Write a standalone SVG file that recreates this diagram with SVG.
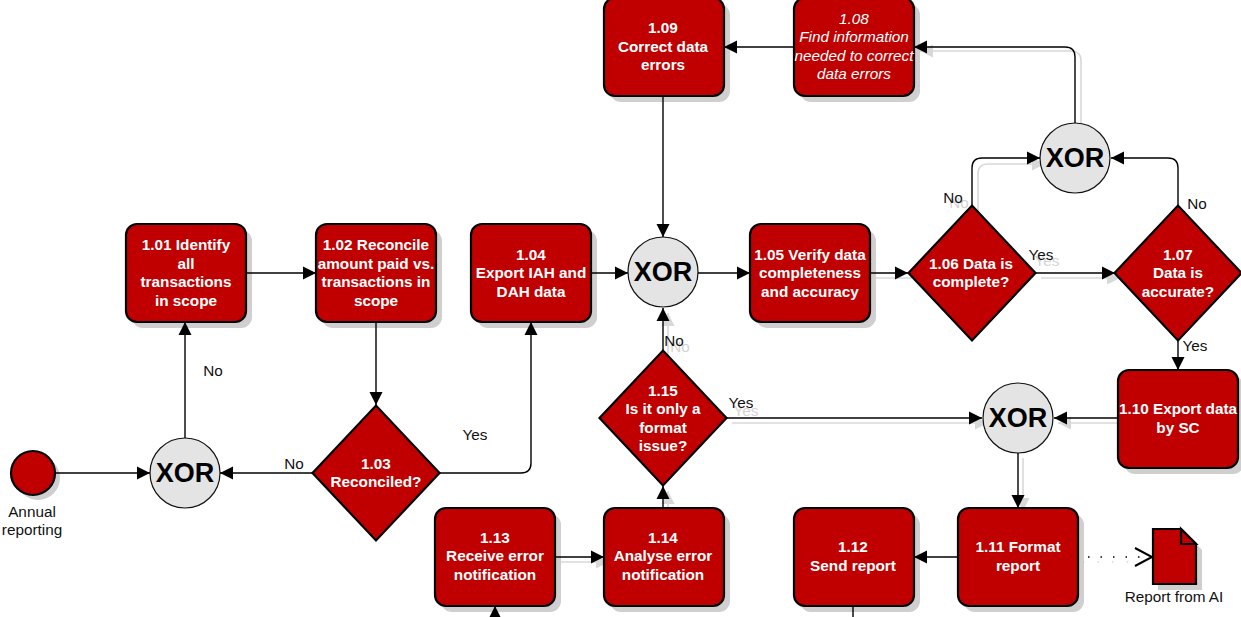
<svg xmlns="http://www.w3.org/2000/svg" width="1241" height="617" viewBox="0 0 1241 617">
<style>
text{font-family:"Liberation Sans",Arial,sans-serif;text-anchor:middle}
.b{fill:#c00000;stroke:#000;stroke-width:2.2}
.s{fill:#cfcfcf}
.x{fill:#e4e4e4;stroke:#111;stroke-width:1.2}
.xt{font-size:27px;font-weight:bold;fill:#000}
.t{font-size:15.3px;font-weight:bold;fill:#fff}
.i{font-size:15.3px;font-style:italic;fill:#fff}
.l{font-size:15.3px;fill:#111}
.g{font-size:15.3px;fill:#d4d4d4}
.c{fill:none;stroke:#000;stroke-width:1.4}
.ch{fill:none;stroke:#000;stroke-width:2}
.cs{fill:none;stroke:#d8d8d8;stroke-width:1.6}
.a{fill:#000}
.as{fill:#d8d8d8}
</style>
<defs>
<rect id="sbox" class="s" width="120" height="98" rx="11"/>
<rect id="box" class="b" width="120" height="98" rx="11"/>
<path id="dia" class="b" d="M-63.5 0L0-67.5L63.5 0L0 67.5Z"/>
<marker id="m" markerUnits="userSpaceOnUse" markerWidth="15" markerHeight="15" refX="14" refY="7.5" orient="auto"><path class="a" d="M1 1L14 7.5L1 14Z"/></marker>
<marker id="ms" markerUnits="userSpaceOnUse" markerWidth="15" markerHeight="15" refX="14" refY="7.5" orient="auto"><path class="as" d="M1 1L14 7.5L1 14Z"/></marker>
</defs>
<g id="connector-shadows">
<path class="cs" marker-end="url(#ms)" d="M1081 128V61Q1081 51 1071 51H920"/>
<path class="cs" marker-end="url(#ms)" d="M978 212V174Q978 164 988 164H1045"/>
<path class="cs" marker-end="url(#ms)" d="M1041 278H1120"/>
<path class="cs" marker-end="url(#ms)" d="M732 423H988"/>
<path class="cs" marker-end="url(#ms)" d="M1123 423H1058"/>
<path class="cs" marker-end="url(#ms)" d="M1023 458V511"/>
<path class="cs" stroke-dasharray="1.5 13" d="M1083 562H1153"/>
<path class="cs" marker-end="url(#ms)" d="M555 562H609"/>
<path class="cs" d="M875 278H913"/>
<path class="cs" marker-end="url(#ms)" d="M668 357V313"/>
<path class="cs" marker-end="url(#ms)" d="M668 512V491"/>
</g>
<g id="start"><circle class="s" cx="38" cy="478" r="22"/><circle class="b" cx="33" cy="473" r="22"/><text class="l" x="32" y="517">Annual</text><text class="l" x="32" y="535">reporting</text></g>
<g id="xor1"><circle class="x" cx="185" cy="473" r="35"/><text class="xt" x="185" y="482">XOR</text></g>
<g id="xor2"><circle class="x" cx="663" cy="272" r="35"/><text class="xt" x="663" y="281">XOR</text></g>
<g id="xor3"><circle class="x" cx="1075" cy="158" r="35"/><text class="xt" x="1075" y="167">XOR</text></g>
<g id="xor4"><circle class="x" cx="1018" cy="418" r="35"/><text class="xt" x="1018" y="427">XOR</text></g>
<g id="n101"><use href="#sbox" x="132" y="230"/><use href="#box" x="126" y="224"/><text class="t" x="186" y="250">1.01 Identify</text><text class="t" x="186" y="269">all</text><text class="t" x="186" y="287">transactions</text><text class="t" x="186" y="306">in scope</text></g>
<g id="n102"><use href="#sbox" x="322" y="230"/><use href="#box" x="316" y="224"/><text class="t" x="376" y="250">1.02 Reconcile</text><text class="t" x="376" y="269">amount paid vs.</text><text class="t" x="376" y="287">transactions in</text><text class="t" x="376" y="306">scope</text></g>
<g id="n104"><use href="#sbox" x="477" y="230"/><use href="#box" x="471" y="224"/><text class="t" x="531" y="260">1.04</text><text class="t" x="531" y="278">Export IAH and</text><text class="t" x="531" y="297">DAH data</text></g>
<g id="n105"><use href="#sbox" x="756" y="230"/><use href="#box" x="750" y="224"/><text class="t" x="810" y="260">1.05 Verify data</text><text class="t" x="810" y="278">completeness</text><text class="t" x="810" y="297">and accuracy</text></g>
<g id="n109"><use href="#sbox" x="610" y="4"/><use href="#box" x="604" y="-2"/><text class="t" x="663" y="33">1.09</text><text class="t" x="663" y="52">Correct data</text><text class="t" x="663" y="70">errors</text></g>
<g id="n108"><use href="#sbox" x="800" y="4"/><use href="#box" x="794" y="-2"/><text class="i" x="854" y="24">1.08</text><text class="i" x="854" y="42">Find information</text><text class="i" x="854" y="61">needed to correct</text><text class="i" x="854" y="79">data errors</text></g>
<g id="n110"><use href="#sbox" x="1124" y="376"/><use href="#box" x="1118" y="370"/><text class="t" x="1178" y="414">1.10 Export data</text><text class="t" x="1178" y="433">by SC</text></g>
<g id="n111"><use href="#sbox" x="964" y="514"/><use href="#box" x="958" y="508"/><text class="t" x="1018" y="552">1.11 Format</text><text class="t" x="1018" y="571">report</text></g>
<g id="n112"><use href="#sbox" x="800" y="514"/><use href="#box" x="794" y="508"/><text class="t" x="853" y="552">1.12</text><text class="t" x="853" y="571">Send report</text></g>
<g id="n113"><use href="#sbox" x="441" y="514"/><use href="#box" x="435" y="508"/><text class="t" x="495" y="543">1.13</text><text class="t" x="495" y="561">Receive error</text><text class="t" x="495" y="580">notification</text></g>
<g id="n114"><use href="#sbox" x="610" y="514"/><use href="#box" x="604" y="508"/><text class="t" x="663" y="543">1.14</text><text class="t" x="663" y="561">Analyse error</text><text class="t" x="663" y="580">notification</text></g>
<g id="n103"><use href="#dia" x="376" y="473"/><text class="t" x="376" y="469">1.03</text><text class="t" x="376" y="487">Reconciled?</text></g>
<g id="n106"><use href="#dia" x="972" y="273"/><text class="t" x="971" y="269">1.06 Data is</text><text class="t" x="971" y="287">complete?</text></g>
<g id="n107"><use href="#dia" x="1178" y="273"/><text class="t" x="1178" y="260">1.07</text><text class="t" x="1178" y="278">Data is</text><text class="t" x="1178" y="297">accurate?</text></g>
<g id="n115"><use href="#dia" x="663" y="418"/><text class="t" x="663" y="396">1.15</text><text class="t" x="663" y="414">Is it only a</text><text class="t" x="663" y="433">format</text><text class="t" x="663" y="451">issue?</text></g>
<g id="doc"><path class="s" d="M1158 534H1186L1202 550V590H1158Z"/><path class="b" d="M1153 529H1181L1196 544V584H1153Z"/><path class="b" d="M1181 529V544H1196Z"/><text class="l" x="1174" y="602">Report from AI</text></g>
<g id="connectors">
<path class="c" marker-end="url(#m)" d="M55 473H150"/>
<path class="c" marker-end="url(#m)" d="M312 473H220"/>
<path class="c" marker-end="url(#m)" d="M185 438V322"/>
<path class="c" marker-end="url(#m)" d="M246 273H316"/>
<path class="c" marker-end="url(#m)" d="M376 322V405"/>
<path class="c" marker-end="url(#m)" d="M440 473H521Q531 473 531 463V322"/>
<path class="c" marker-end="url(#m)" d="M591 273H628"/>
<path class="c" marker-end="url(#m)" d="M663 96V237"/>
<path class="c" marker-end="url(#m)" d="M698 273H750"/>
<path class="c" marker-end="url(#m)" d="M870 273H908"/>
<path class="c" marker-end="url(#m)" d="M972 206V168Q972 158 982 158H1040"/>
<path class="c" marker-end="url(#m)" d="M1036 273H1115"/>
<path class="c" marker-end="url(#m)" d="M1178 206V168Q1178 158 1168 158H1111"/>
<path class="c" marker-end="url(#m)" d="M1075 123V57Q1075 47 1065 47H914"/>
<path class="c" marker-end="url(#m)" d="M794 47H724"/>
<path class="c" marker-end="url(#m)" d="M1178 341V370"/>
<path class="c" marker-end="url(#m)" d="M1118 418H1054"/>
<path class="c" marker-end="url(#m)" d="M727 418H982"/>
<path class="c" marker-end="url(#m)" d="M1018 453V508"/>
<path class="c" marker-end="url(#m)" d="M958 557H914"/>
<path class="c" stroke-dasharray="1.5 11" d="M1088 557H1150"/>
<path class="ch" d="M1135 548L1152 557L1135 566"/>
<path class="c" marker-end="url(#m)" d="M555 557H604"/>
<path class="c" marker-end="url(#m)" d="M663 508V486"/>
<path class="c" marker-end="url(#m)" d="M663 352V308"/>
<path class="c" d="M853 606V617"/>
<path class="c" marker-end="url(#m)" d="M495 620V606"/>
</g>
<g id="labels">
<text class="g" x="959" y="208">No</text><text class="g" x="1047" y="266">Yes</text><text class="g" x="680" y="352">No</text><text class="g" x="746" y="416">Yes</text>
<text class="l" x="213" y="376">No</text><text class="l" x="294" y="469">No</text><text class="l" x="475" y="440">Yes</text><text class="l" x="953" y="203">No</text><text class="l" x="1041" y="260">Yes</text><text class="l" x="1197" y="209">No</text><text class="l" x="1195" y="351">Yes</text><text class="l" x="674" y="346">No</text><text class="l" x="741" y="408">Yes</text>
</g>
</svg>
